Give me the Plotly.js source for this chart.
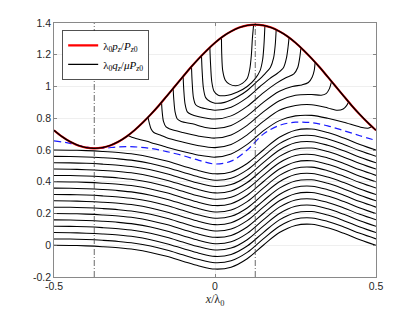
<!DOCTYPE html>
<html>
<head>
<meta charset="utf-8">
<script src="https://cdn.plot.ly/plotly-3.0.1.min.js"></script>
<style>html,body{margin:0;padding:0;background:#fff;}#chart{width:415px;height:312px;}</style>
</head>
<body>
<div id="chart"></div>
<script>
// x grid for full curves
const xGrid = [-0.5,-0.45,-0.4,-0.35,-0.3,-0.25,-0.2,-0.15,-0.1,-0.05,0,0.05,0.1,0.15,0.2,0.25,0.3,0.35,0.4,0.45,0.5];

// envelope lambda0 pz / Pz0 (red), read at 0.025 steps
const xEnv = [-0.5,-0.475,-0.45,-0.425,-0.4,-0.375,-0.35,-0.325,-0.3,-0.275,-0.25,-0.225,-0.2,-0.175,-0.15,-0.125,-0.1,-0.075,-0.05,-0.025,0,0.025,0.05,0.075,0.1,0.125,0.15,0.175,0.2,0.225,0.25,0.275,0.3,0.325,0.35,0.375,0.4,0.425,0.45,0.475,0.5];
const pz = [0.724,0.684,0.652,0.629,0.615,0.61,0.615,0.629,0.652,0.684,0.724,0.771,0.823,0.879,0.939,1.0,1.061,1.121,1.177,1.229,1.276,1.316,1.347,1.371,1.385,1.39,1.385,1.371,1.347,1.316,1.276,1.229,1.177,1.121,1.061,1.0,0.939,0.879,0.823,0.771,0.724];

// blue dashed curve
const qBlue = [0.658,0.642,0.618,0.611,0.62,0.62,0.61,0.59,0.565,0.535,0.512,0.53,0.6,0.7,0.755,0.775,0.772,0.752,0.722,0.69,0.66];

// lower (complete) black curves
const q00 = [0,-0.001,-0.004,-0.009,-0.016,-0.027,-0.045,-0.07,-0.1,-0.13,-0.15,-0.138,-0.085,0,0.08,0.125,0.132,0.11,0.075,0.035,0];
const q04 = [0.04,0.039,0.036,0.031,0.024,0.013,-0.005,-0.03,-0.06,-0.09,-0.11,-0.098,-0.045,0.04,0.12,0.165,0.172,0.15,0.115,0.075,0.04];
const q08 = [0.08,0.079,0.076,0.071,0.064,0.053,0.035,0.01,-0.02,-0.05,-0.07,-0.058,-0.005,0.08,0.16,0.205,0.212,0.19,0.155,0.115,0.08];
const q12 = [0.12,0.119,0.116,0.111,0.104,0.093,0.075,0.05,0.02,-0.01,-0.03,-0.018,0.035,0.12,0.2,0.245,0.252,0.23,0.195,0.155,0.12];
const q16 = [0.16,0.159,0.156,0.151,0.144,0.133,0.115,0.09,0.06,0.03,0.01,0.022,0.075,0.16,0.24,0.285,0.292,0.27,0.235,0.195,0.16];
const q20 = [0.2,0.199,0.196,0.191,0.184,0.173,0.155,0.13,0.1,0.07,0.05,0.062,0.115,0.2,0.28,0.325,0.332,0.31,0.275,0.235,0.2];
const q24 = [0.24,0.239,0.236,0.231,0.224,0.213,0.195,0.17,0.14,0.11,0.09,0.102,0.155,0.24,0.32,0.365,0.372,0.35,0.315,0.275,0.24];
const q28 = [0.28,0.279,0.276,0.271,0.264,0.253,0.235,0.21,0.18,0.15,0.13,0.142,0.195,0.28,0.36,0.405,0.412,0.39,0.355,0.315,0.28];
const q32 = [0.32,0.319,0.316,0.311,0.304,0.293,0.275,0.25,0.22,0.19,0.17,0.182,0.235,0.32,0.4,0.445,0.452,0.43,0.395,0.355,0.32];
const q36 = [0.36,0.359,0.356,0.351,0.344,0.333,0.315,0.29,0.26,0.23,0.21,0.222,0.275,0.36,0.44,0.485,0.492,0.47,0.435,0.395,0.36];
const q40 = [0.4,0.399,0.396,0.391,0.384,0.373,0.355,0.33,0.3,0.27,0.25,0.262,0.315,0.4,0.48,0.525,0.532,0.51,0.475,0.435,0.4];
const q44 = [0.44,0.439,0.436,0.431,0.424,0.413,0.395,0.37,0.34,0.31,0.29,0.302,0.355,0.44,0.52,0.565,0.572,0.55,0.515,0.475,0.44];
const q48 = [0.48,0.479,0.476,0.471,0.464,0.453,0.435,0.41,0.38,0.35,0.33,0.342,0.395,0.48,0.56,0.605,0.612,0.59,0.555,0.515,0.48];
const q52 = [0.52,0.519,0.516,0.511,0.504,0.493,0.475,0.45,0.42,0.39,0.37,0.382,0.435,0.52,0.6,0.645,0.652,0.63,0.595,0.555,0.52];
const q56 = [0.56,0.559,0.556,0.551,0.544,0.533,0.515,0.49,0.46,0.43,0.41,0.422,0.475,0.56,0.64,0.685,0.692,0.67,0.635,0.595,0.56];
const q60 = [0.6,0.599,0.596,0.591,0.584,0.573,0.555,0.53,0.5,0.47,0.45,0.462,0.515,0.6,0.68,0.725,0.732,0.71,0.675,0.635,0.6];
const lowerCurves = [q00,q04,q08,q12,q16,q20,q24,q28,q32,q36,q40,q44,q48,q52,q56,q60];

// upper curves that leave and rejoin the envelope
const u1x = [-0.27,-0.25,-0.2,-0.15,-0.1,-0.05,0,0.05,0.1,0.15,0.2,0.25,0.3,0.35,0.4,0.45,0.475,0.487];
const u1y = [0.692,0.675,0.648,0.617,0.59,0.567,0.555,0.575,0.635,0.72,0.785,0.815,0.818,0.8,0.775,0.745,0.737,0.748];
const u2x = [-0.208,-0.204,-0.198,-0.19,-0.17,-0.15,-0.1,-0.05,0,0.05,0.1,0.15,0.2,0.25,0.3,0.35,0.38,0.398,0.408,0.415];
const u2y = [0.806,0.77,0.73,0.71,0.695,0.677,0.65,0.627,0.615,0.635,0.695,0.78,0.85,0.88,0.885,0.865,0.85,0.858,0.878,0.903];
const u3x = [-0.166,-0.164,-0.16,-0.152,-0.14,-0.1,-0.05,0,0.05,0.1,0.15,0.2,0.25,0.3,0.33,0.345,0.355,0.362];
const u3y = [0.9,0.84,0.78,0.745,0.732,0.71,0.687,0.675,0.695,0.755,0.84,0.91,0.945,0.95,0.945,0.955,0.985,1.032];
const u4x = [-0.13,-0.128,-0.124,-0.117,-0.105,-0.07,-0.03,0,0.05,0.1,0.15,0.2,0.24,0.27,0.29,0.302,0.308,0.311];
const u4y = [0.988,0.92,0.84,0.795,0.78,0.765,0.742,0.735,0.755,0.815,0.9,0.97,1.0,1.01,1.025,1.06,1.1,1.152];
const u5x = [-0.099,-0.097,-0.093,-0.086,-0.075,-0.05,0,0.05,0.1,0.15,0.19,0.22,0.245,0.257,0.263,0.267];
const u5y = [1.064,0.98,0.89,0.84,0.825,0.81,0.795,0.815,0.875,0.96,1.02,1.055,1.08,1.12,1.18,1.245];
const u6x = [-0.073,-0.071,-0.067,-0.06,-0.045,-0.02,0,0.05,0.1,0.14,0.17,0.195,0.213,0.222,0.227,0.23];
const u6y = [1.125,1.03,0.93,0.885,0.868,0.857,0.85,0.87,0.93,1.0,1.05,1.085,1.12,1.18,1.25,1.308];
const u7x = [-0.042,-0.04,-0.036,-0.029,-0.015,0,0.03,0.07,0.1,0.13,0.155,0.172,0.182,0.187,0.19];
const u7y = [1.194,1.1,0.99,0.93,0.905,0.895,0.9,0.935,0.975,1.03,1.08,1.12,1.18,1.26,1.358];
const u8x = [-0.016,-0.014,-0.01,-0.003,0.01,0.04,0.07,0.1,0.125,0.14,0.148,0.152,0.155];
const u8y = [1.246,1.15,1.03,0.97,0.945,0.945,0.965,1.0,1.05,1.1,1.17,1.26,1.383];
const u9x = [0.02,0.021,0.024,0.032,0.045,0.065,0.085,0.1,0.108,0.113,0.116,0.12];
const u9y = [1.308,1.2,1.1,1.04,1.015,1.005,1.02,1.05,1.11,1.2,1.3,1.39];
const upperCurves = [[u1x,u1y],[u2x,u2y],[u3x,u3y],[u4x,u4y],[u5x,u5y],[u6x,u6y],[u7x,u7y],[u8x,u8y],[u9x,u9y]];

// reference vertical lines
const xMarks = [-0.375, 0.125];

const xTicks = [-0.5, 0, 0.5];
const xTickLabels = ['-0.5', '0', '0.5'];
const yTicks = [-0.2, 0, 0.2, 0.4, 0.6, 0.8, 1, 1.2, 1.4];
const yTickLabels = ['-0.2', '0', '0.2', '0.4', '0.6', '0.8', '1', '1.2', '1.4'];

const traces = [];
lowerCurves.forEach(q => traces.push({
  x: xGrid, y: q, mode: 'lines', showlegend: false, hoverinfo: 'skip',
  line: {color: '#000', width: 1.05, shape: 'spline', smoothing: 1}
}));
upperCurves.forEach(c => traces.push({
  x: c[0], y: c[1], mode: 'lines', showlegend: false, hoverinfo: 'skip',
  line: {color: '#000', width: 1.05, shape: 'spline', smoothing: 0.8}
}));
traces.push({
  x: xGrid, y: qBlue, mode: 'lines', showlegend: false, hoverinfo: 'skip',
  line: {color: '#1a1aff', width: 1.2, dash: '7px,4px', shape: 'spline', smoothing: 1}
});
xMarks.forEach(xm => traces.push({
  x: [xm, xm], y: [yTicks[0], yTicks[yTicks.length - 1]], mode: 'lines', showlegend: false, hoverinfo: 'skip',
  line: {color: '#444', width: 0.8, dash: '6px,2px,1px,2px'}
}));
traces.push({
  x: xEnv, y: pz, mode: 'lines', name: 'λ<sub>0</sub><i>p<sub>z</sub></i>/<i>P</i><sub><i>z</i>0</sub>',
  legendrank: 1, hoverinfo: 'skip',
  line: {color: '#ff0000', width: 2.1, shape: 'spline', smoothing: 1}
});
traces.push({
  x: xEnv, y: pz, mode: 'lines', name: 'λ<sub>0</sub><i>q<sub>z</sub></i>/<i>μP</i><sub><i>z</i>0</sub>',
  legendrank: 2, hoverinfo: 'skip',
  line: {color: '#000', width: 1.4, shape: 'spline', smoothing: 1}
});

const axisCommon = {
  showline: true, mirror: 'ticks', linecolor: '#6b6b6b', linewidth: 0.8,
  ticks: 'inside', ticklen: 3, tickcolor: '#6b6b6b', tickwidth: 0.8,
  showgrid: true, gridcolor: '#ebebeb', gridwidth: 0.8, zeroline: false,
  tickfont: {family: 'Liberation Sans, Arial, sans-serif', size: 10.5, color: '#262626'},
  tickmode: 'array'
};

const layout = {
  width: 415, height: 312,
  margin: {l: 54, r: 39, t: 23, b: 35, pad: 0},
  paper_bgcolor: '#fff', plot_bgcolor: '#fff',
  xaxis: Object.assign({}, axisCommon, {
    range: [-0.5, 0.5], tickvals: xTicks, ticktext: xTickLabels,
    title: {text: '<i>x</i>/λ<sub>0</sub>', standoff: 2,
      font: {family: 'Liberation Serif, DejaVu Serif, serif', size: 12, color: '#262626'}}
  }),
  yaxis: Object.assign({}, axisCommon, {
    range: [-0.2, 1.4], tickvals: yTicks, ticktext: yTickLabels
  }),
  legend: {
    x: 0.026, y: 0.972, xanchor: 'left', yanchor: 'top',
    bgcolor: '#fff', bordercolor: '#262626', borderwidth: 0.8,
    font: {family: 'Liberation Serif, DejaVu Serif, serif', size: 11, color: '#000'},
    itemwidth: 30, tracegroupgap: 0
  },
  showlegend: true
};

Plotly.newPlot('chart', traces, layout, {displayModeBar: false, staticPlot: true});
</script>
</body>
</html>
